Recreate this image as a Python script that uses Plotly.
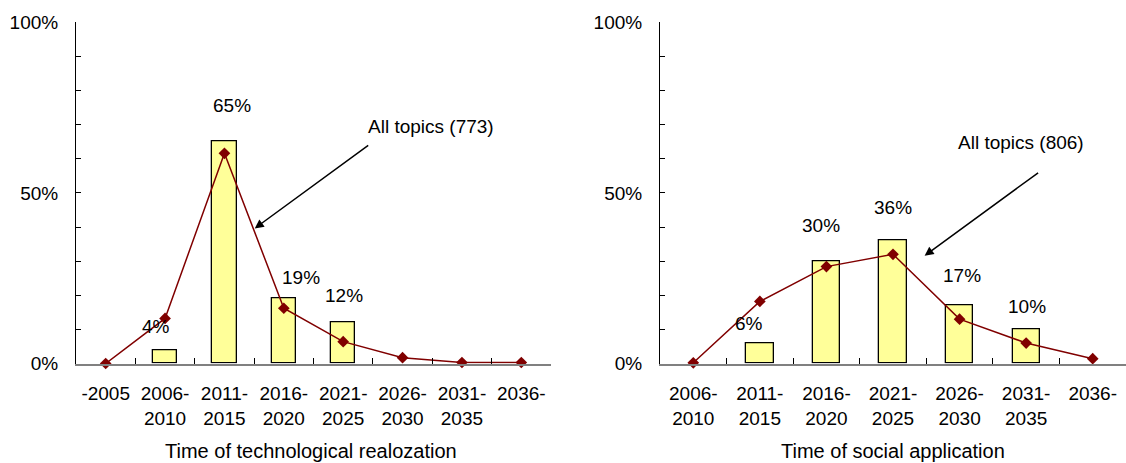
import plotly.graph_objects as go

# Technological realization (left panel)
tech_periods = ["-2005", "2006-2010", "2011-2015", "2016-2020",
                "2021-2025", "2026-2030", "2031-2035", "2036-"]
tech_ticktext = ["-2005", "2006-<br>2010", "2011-<br>2015", "2016-<br>2020",
                 "2021-<br>2025", "2026-<br>2030", "2031-<br>2035", "2036-"]
tech_bars = [None, 4, 65, 19, 12, None, None, None]
tech_all_topics = [0, 13.2, 61.6, 16.2, 6.4, 1.7, 0.3, 0.3]

# Social application (right panel)
soc_periods = ["2006-2010", "2011-2015", "2016-2020", "2021-2025",
               "2026-2030", "2031-2035", "2036-"]
soc_ticktext = ["2006-<br>2010", "2011-<br>2015", "2016-<br>2020", "2021-<br>2025",
                "2026-<br>2030", "2031-<br>2035", "2036-"]
soc_bars = [None, 6, 30, 36, 17, 10, None]
soc_all_topics = [0.2, 18.2, 28.4, 32.0, 13.0, 6.0, 1.4]

y_ticks = [0, 50, 100]
y_ticktext = ["0%", "50%", "100%"]

FONT = "Liberation Sans, Arial, sans-serif"
BAR_FILL = "#FFFF99"
LINE_RED = "#800000"
FS = 19

fig = go.Figure()

panels = [
    ("x", "y", tech_periods, tech_bars, tech_all_topics),
    ("x2", "y2", soc_periods, soc_bars, soc_all_topics),
]
for xa, ya, cats, bars, line in panels:
    fig.add_trace(go.Bar(
        x=cats, y=bars, xaxis=xa, yaxis=ya, width=0.41,
        marker=dict(color=BAR_FILL, line=dict(color="black", width=1.3)),
        hoverinfo="skip",
    ))
    fig.add_trace(go.Scatter(
        x=cats, y=line, xaxis=xa, yaxis=ya, mode="lines+markers",
        line=dict(color=LINE_RED, width=1.5),
        marker=dict(symbol="diamond", size=9, color=LINE_RED),
        cliponaxis=False,
    ))

# value labels above bars: (axis suffix, category, value, xshift, yshift)
bar_labels = [
    ("", tech_periods[1], tech_bars[1], -9, 23),
    ("", tech_periods[2], tech_bars[2], 8, 36),
    ("", tech_periods[3], tech_bars[3], 17, 21),
    ("", tech_periods[4], tech_bars[4], 1, 27),
    ("2", soc_periods[1], soc_bars[1], -11, 20),
    ("2", soc_periods[2], soc_bars[2], -5, 36),
    ("2", soc_periods[3], soc_bars[3], 0, 33),
    ("2", soc_periods[4], soc_bars[4], 2, 30),
    ("2", soc_periods[5], soc_bars[5], 1, 23),
]
annotations = []
for sfx, cat, val, dx, dy in bar_labels:
    annotations.append(dict(
        x=cat, y=val, xref="x" + sfx, yref="y" + sfx, text=f"{val}%",
        showarrow=False, xshift=dx, yshift=dy,
        xanchor="center", yanchor="middle",
        font=dict(family=FONT, size=FS, color="black"),
    ))

# "All topics" callouts with arrows
callouts = [
    ("", "All topics (773)", 5.48, 69.6, 2.51, 39.6),
    ("2", "All topics (806)", 4.92, 64.8, 3.475, 31.6),
]
for sfx, txt, tx, ty, hx, hy in callouts:
    annotations.append(dict(
        x=tx, y=ty, xref="x" + sfx, yref="y" + sfx, text=txt, showarrow=False,
        xanchor="center", yanchor="middle",
        font=dict(family=FONT, size=FS, color="black"),
    ))
    annotations.append(dict(
        x=hx, y=hy, xref="x" + sfx, yref="y" + sfx, text="", showarrow=True,
        ax=115, ay=-84, axref="pixel", ayref="pixel",
        arrowhead=2, arrowsize=1.2, arrowwidth=1.5, arrowcolor="black",
    ))

# axis titles
for xc, txt in [(311 / 1126, "Time of technological realozation"),
                (893 / 1126, "Time of social application")]:
    annotations.append(dict(
        x=xc, y=(463 - 451) / 463, xref="paper", yref="paper", text=txt,
        showarrow=False, xanchor="center", yanchor="middle",
        font=dict(family=FONT, size=20, color="black"),
    ))

y_dom = [(463 - 363.5) / 463, (463 - 22.3) / 463]

def xaxis_style(domain, ticktext, cats):
    return dict(
        domain=domain, type="category", range=[-0.5, len(cats) - 0.5],
        tickmode="array", tickvals=cats, ticktext=ticktext,
        showline=True, linecolor="#808080", linewidth=2,
        ticks="inside", tickson="boundaries", ticklen=6, tickcolor="black",
        tickwidth=1, showgrid=False, zeroline=False, automargin=False,
        ticklabelstandoff=12,
        tickfont=dict(family=FONT, size=FS, color="black"),
    )

def yaxis_style(anchor):
    return dict(
        domain=y_dom, range=[0, 100], anchor=anchor,
        tickmode="array", tickvals=y_ticks, ticktext=y_ticktext,
        ticks="inside", ticklen=5, tickcolor="black", tickwidth=1,
        minor=dict(dtick=10, ticks="inside", ticklen=5, tickcolor="black", tickwidth=1),
        showline=True, linecolor="black", linewidth=1,
        showgrid=False, zeroline=False, automargin=False, ticklabelstandoff=13,
        tickfont=dict(family=FONT, size=FS, color="black"),
    )

fig.update_layout(
    width=1126, height=463,
    margin=dict(l=0, r=0, t=0, b=0, autoexpand=False),
    paper_bgcolor="white", plot_bgcolor="white",
    showlegend=False, bargap=0,
    xaxis=xaxis_style([76 / 1126, 551 / 1126], tech_ticktext, tech_periods) | dict(anchor="y"),
    yaxis=yaxis_style("x"),
    xaxis2=xaxis_style([660 / 1126, 1.0], soc_ticktext, soc_periods) | dict(anchor="y2"),
    yaxis2=yaxis_style("x2"),
    annotations=annotations,
)

fig.write_html("out.html")
